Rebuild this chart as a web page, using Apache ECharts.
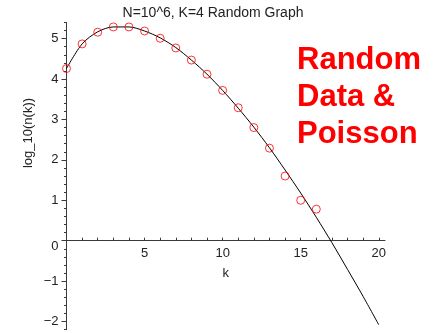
<!DOCTYPE html>
<html>
<head>
<meta charset="utf-8">
<script src="https://cdn.jsdelivr.net/npm/echarts@6/dist/echarts.min.js"></script>
<style>
  html, body { margin: 0; padding: 0; background: #fff; }
  #chart { width: 438px; height: 333px; }
</style>
</head>
<body>
<div id="chart"></div>
<script>
// Degree k for the sampled random graph and for the Poisson curve
const sampleK = [0, 1, 2, 3, 4, 5, 6, 7, 8, 9, 10, 11, 12, 13, 14, 15, 16];
const sampleLogN = [4.26, 4.87, 5.16, 5.29, 5.29, 5.19, 5.01, 4.77, 4.47, 4.12, 3.72, 3.29, 2.80, 2.29, 1.60, 1.00, 0.78];

const poissonK = [0, 1, 2, 3, 4, 5, 6, 7, 8, 9, 10, 11, 12, 13, 14, 15, 16, 17, 18, 19, 20];
const poissonLogN = [4.26, 4.87, 5.17, 5.29, 5.29, 5.19, 5.02, 4.78, 4.47, 4.12, 3.72, 3.28, 2.81, 2.30, 1.75, 1.18, 0.58, -0.05, -0.71, -1.38, -2.08];

const xLabels = [5, 10, 15, 20];
const xTicks = [1, 2, 3, 4, 5, 6, 7, 8, 9, 10, 11, 12, 13, 14, 15, 16, 17, 18, 19, 20];
const yLabels = [-2, -1, 0, 1, 2, 3, 4, 5];
const yMinorTicks = [-2.2, -2.0, -1.8, -1.6, -1.4, -1.2, -1.0, -0.8, -0.6, -0.4, -0.2, 0, 0.2, 0.4, 0.6, 0.8, 1.0, 1.2, 1.4, 1.6, 1.8, 2.0, 2.2, 2.4, 2.6, 2.8, 3.0, 3.2, 3.4, 3.6, 3.8, 4.0, 4.2, 4.4, 4.6, 4.8, 5.0, 5.2, 5.4];

const titleText = 'N=10^6, K=4 Random Graph';
const yName = 'log_10(n(k))';
const xName = 'k';
const noteLines = ['Random', 'Data &', 'Poisson'];

const axisColor = '#3a3a3a';
const textColor = '#222';
const font = '"Liberation Sans", Arial, sans-serif';

// Plot frame: x from 0 to 20.4, y from -2.2 to 5.4
const X_MIN = 0, X_MAX = 20.4, Y_MIN = -2.2, Y_MAX = 5.4;
const W = 438, H = 333;
const gridLeft = 66.5, gridRight = 53, gridTop = 22.5, gridBottom = 3.4;
// the k axis sits on the line y = 0, so its own grid ends there
const plotH = H - gridTop - gridBottom;
const zeroY = gridTop + (Y_MAX - 0) / (Y_MAX - Y_MIN) * plotH;

const chart = echarts.init(document.getElementById('chart'), null, { renderer: 'canvas' });

const noteGraphics = noteLines.map((line, i) => ({
  type: 'text',
  left: 297,
  top: 45 + i * 37,
  style: {
    text: line,
    fill: '#ff0000',
    font: 'bold 31px ' + font
  }
}));

chart.setOption({
  animation: false,
  backgroundColor: '#fff',
  grid: [
    { left: gridLeft, right: gridRight, top: gridTop, bottom: gridBottom, containLabel: false, outerBoundsMode: 'none' },
    { left: gridLeft, right: gridRight, top: gridTop, bottom: H - zeroY, containLabel: false, outerBoundsMode: 'none' }
  ],
  xAxis: [
    {
      gridIndex: 0,
      type: 'value',
      min: X_MIN,
      max: X_MAX,
      show: false
    },
    {
      gridIndex: 1,
      type: 'value',
      min: X_MIN,
      max: X_MAX,
      position: 'bottom',
      name: xName,
      nameLocation: 'middle',
      nameGap: 26,
      nameTextStyle: { color: textColor, fontSize: 13, fontFamily: font },
      axisLine: { onZero: false, lineStyle: { color: axisColor, width: 1 } },
      axisTick: { inside: true, length: 3, customValues: xTicks, lineStyle: { color: axisColor } },
      axisLabel: { customValues: xLabels, color: textColor, fontSize: 13, fontFamily: font, margin: 6 },
      splitLine: { show: false }
    }
  ],
  yAxis: [
    {
      gridIndex: 0,
      type: 'value',
      min: Y_MIN,
      max: Y_MAX,
      axisLine: { show: true, onZero: false, lineStyle: { color: axisColor, width: 1 } },
      axisTick: { length: 5, customValues: yLabels, lineStyle: { color: axisColor } },
      axisLabel: {
        customValues: yLabels,
        color: textColor,
        fontSize: 13,
        fontFamily: font,
        margin: 8,
        formatter: v => (v === 0 ? '{z|0}' : (v < 0 ? '\u2212' + Math.abs(v) : String(v))),
        rich: { z: { padding: [12, 0, 0, 0], color: textColor, fontSize: 13, fontFamily: font } }
      },
      splitLine: { show: false }
    },
    {
      gridIndex: 0,
      type: 'value',
      min: Y_MIN,
      max: Y_MAX,
      position: 'left',
      axisLine: { show: false },
      axisTick: { length: 2.5, customValues: yMinorTicks, lineStyle: { color: axisColor } },
      axisLabel: { show: false },
      splitLine: { show: false }
    },
    {
      gridIndex: 1,
      type: 'value',
      min: 0,
      max: Y_MAX,
      show: false
    }
  ],
  series: [
    {
      type: 'line',
      xAxisIndex: 0,
      yAxisIndex: 0,
      data: poissonK.map((k, i) => [k, poissonLogN[i]]),
      smooth: 0.3,
      showSymbol: false,
      lineStyle: { color: '#000', width: 1 },
      z: 2
    },
    {
      type: 'scatter',
      xAxisIndex: 0,
      yAxisIndex: 0,
      data: sampleK.map((k, i) => [k, sampleLogN[i]]),
      symbol: 'circle',
      symbolSize: 8,
      itemStyle: { color: 'rgba(0,0,0,0)', borderColor: '#ff0000', borderWidth: 1 },
      z: 3
    }
  ],
  graphic: [
    {
      type: 'text',
      x: 213,
      y: 6,
      style: { text: titleText, fill: textColor, font: '14px ' + font, align: 'center' }
    },
    {
      type: 'text',
      x: 28,
      y: 133,
      rotation: Math.PI / 2,
      style: { text: yName, fill: textColor, font: '13px ' + font, align: 'center', verticalAlign: 'middle' }
    }
  ].concat(noteGraphics)
});
</script>
</body>
</html>
